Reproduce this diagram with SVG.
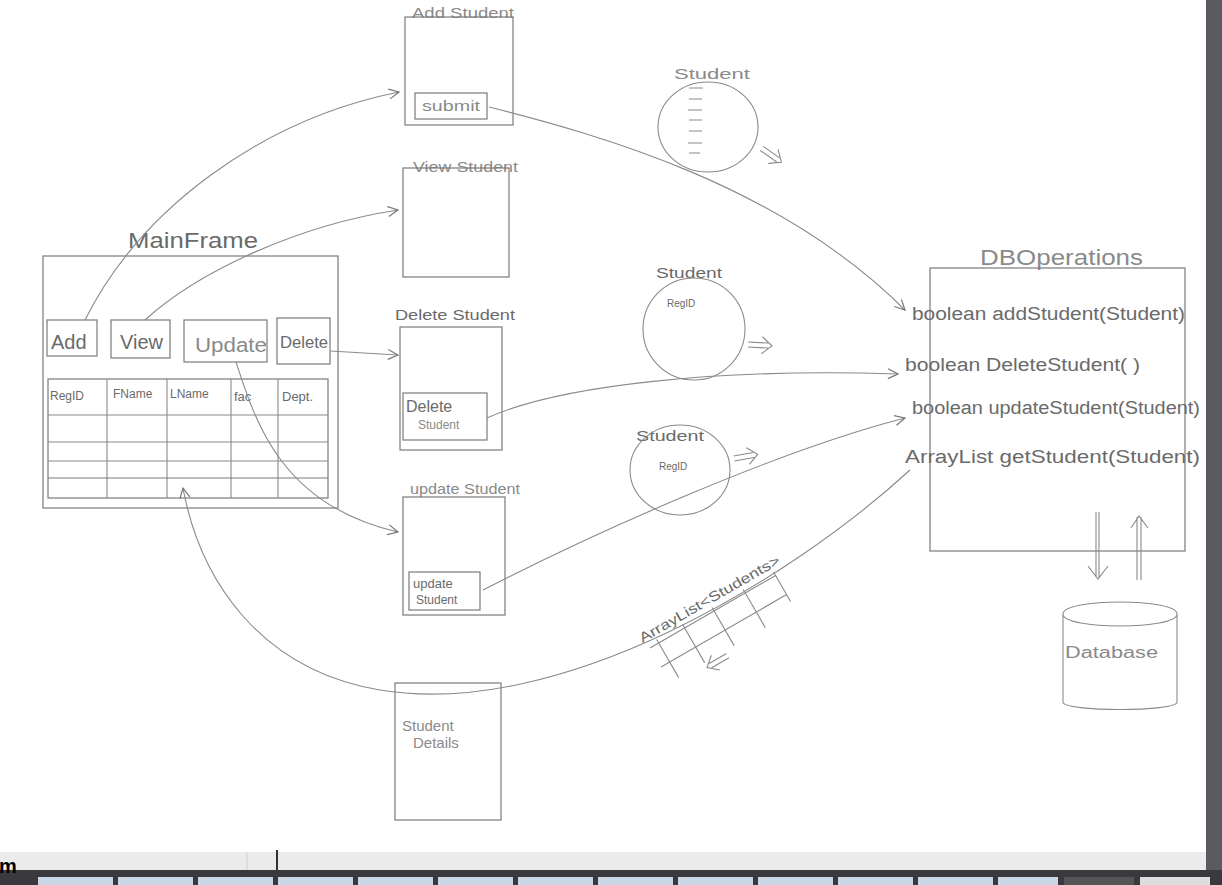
<svg xmlns="http://www.w3.org/2000/svg" width="1222" height="885" viewBox="0 0 1222 885">
<defs>
<style>
.s{fill:none;stroke:#7a7a7a;stroke-width:1.2}
.c{fill:none;stroke:#8a8a8a;stroke-width:1.1}
.t{font-family:"Liberation Sans","DejaVu Sans",sans-serif;fill:#6a6a6a}
.tl{font-family:"Liberation Sans","DejaVu Sans",sans-serif;fill:#8a8a8a}
</style>
<marker id="ah" viewBox="0 0 12 12" refX="11" refY="6" markerWidth="12" markerHeight="12" markerUnits="userSpaceOnUse" orient="auto">
<path d="M1,1 L11,6 L1,11" fill="none" stroke="#777" stroke-width="1.2"/>
</marker>
<g id="dbl">
<path d="M0,-2 L20,-2 M0,3 L20,3 M14,-8 L24,0.5 L14,9" fill="none" stroke="#8a8a8a" stroke-width="1.1"/>
</g>
</defs>
<rect width="1222" height="885" fill="#ffffff"/>

<g id="mainframe">
<text class="t" x="128" y="248" font-size="22" textLength="130" lengthAdjust="spacingAndGlyphs">MainFrame</text>
<rect class="s" x="43" y="256" width="295" height="252"/>
<rect class="s" x="47" y="320" width="50" height="36"/>
<text class="t" x="51" y="349" font-size="20">Add</text>
<rect class="s" x="111" y="320" width="59" height="38"/>
<text class="t" x="120" y="349" font-size="20">View</text>
<rect class="s" x="184" y="320" width="83" height="42"/>
<text class="tl" x="195" y="352" font-size="20" textLength="72" lengthAdjust="spacingAndGlyphs">Update</text>
<rect class="s" x="277" y="318" width="53" height="46"/>
<text class="t" x="280" y="348" font-size="16" textLength="48" lengthAdjust="spacingAndGlyphs">Delete</text>
<rect class="s" x="48" y="379" width="280" height="119"/>
<path class="c" d="M107,379 V498 M167,379 V498 M231,379 V498 M278,379 V498 M48,415 H328 M48,442 H328 M48,461 H328"/>
<path class="s" d="M48,478 H328"/>
<text class="t" x="50" y="400" font-size="12">RegID</text>
<text class="t" x="113" y="398" font-size="12">FName</text>
<text class="t" x="170" y="398" font-size="12">LName</text>
<text class="t" x="234" y="401" font-size="13">fac</text>
<text class="t" x="282" y="401" font-size="13">Dept.</text>
</g>

<g id="add-student">
<text class="tl" x="412" y="18" font-size="14" textLength="102" lengthAdjust="spacingAndGlyphs">Add Student</text>
<rect class="s" x="405" y="17" width="108" height="108"/>
<rect class="s" x="415" y="93" width="72" height="26"/>
<text class="tl" x="422" y="111" font-size="14" textLength="58" lengthAdjust="spacingAndGlyphs">submit</text>
</g>

<g id="view-student">
<text class="tl" x="413" y="172" font-size="14" textLength="105" lengthAdjust="spacingAndGlyphs">View Student</text>
<rect class="s" x="403" y="168" width="106" height="109"/>
</g>

<g id="delete-student">
<text class="t" x="395" y="320" font-size="14" textLength="120" lengthAdjust="spacingAndGlyphs">Delete Student</text>
<rect class="s" x="400" y="327" width="102" height="123"/>
<rect class="s" x="403" y="393" width="84" height="47"/>
<text class="t" x="406" y="412" font-size="16">Delete</text>
<text class="tl" x="418" y="429" font-size="12">Student</text>
</g>

<g id="update-student">
<text class="tl" x="410" y="494" font-size="14" textLength="110" lengthAdjust="spacingAndGlyphs">update Student</text>
<rect class="s" x="403" y="497" width="102" height="118"/>
<rect class="s" x="409" y="572" width="71" height="38"/>
<text class="t" x="413" y="588" font-size="13">update</text>
<text class="t" x="416" y="604" font-size="12">Student</text>
</g>

<g id="student-details">
<rect class="s" x="395" y="683" width="106" height="137"/>
<text class="tl" x="402" y="731" font-size="15">Student</text>
<text class="tl" x="413" y="748" font-size="15">Details</text>
</g>

<g id="student-obj-1">
<text class="tl" x="674" y="79" font-size="15" textLength="76" lengthAdjust="spacingAndGlyphs">Student</text>
<ellipse class="c" cx="708" cy="127" rx="50" ry="45"/>
<path class="c" d="M689,88 H703 M689,99 H702 M688,110 H702 M689,120 H702 M689,131 H702 M688,143 H702 M689,153 H700"/>
<use href="#dbl" transform="translate(762,148) rotate(35)"/>
</g>

<g id="student-obj-2">
<text class="t" x="656" y="278" font-size="15" textLength="66" lengthAdjust="spacingAndGlyphs">Student</text>
<ellipse class="c" cx="694" cy="329" rx="51" ry="51"/>
<text class="t" x="667" y="307" font-size="10">RegID</text>
<use href="#dbl" transform="translate(748,344) rotate(3)"/>
</g>

<g id="student-obj-3">
<text class="t" x="636" y="441" font-size="15" textLength="68" lengthAdjust="spacingAndGlyphs">Student</text>
<ellipse class="c" cx="680" cy="470" rx="50" ry="45"/>
<text class="t" x="659" y="470" font-size="10">RegID</text>
<use href="#dbl" transform="translate(734,458) rotate(-10)"/>
</g>

<g id="dboperations">
<text class="tl" x="980" y="265" font-size="22" textLength="163" lengthAdjust="spacingAndGlyphs">DBOperations</text>
<rect class="s" x="930" y="268" width="255" height="283"/>
<text class="t" x="912" y="320" font-size="18" textLength="273" lengthAdjust="spacingAndGlyphs">boolean  addStudent(Student)</text>
<text class="t" x="905" y="371" font-size="18" textLength="235" lengthAdjust="spacingAndGlyphs">boolean DeleteStudent( )</text>
<text class="t" x="912" y="414" font-size="18" textLength="288" lengthAdjust="spacingAndGlyphs">boolean    updateStudent(Student)</text>
<text class="t" x="905" y="463" font-size="18" textLength="295" lengthAdjust="spacingAndGlyphs">ArrayList    getStudent(Student)</text>
</g>

<g id="database">
<path class="c" d="M1063,614 C1063,598 1177,598 1177,614 C1177,630 1063,630 1063,614 Z M1063,614 V702 C1063,712 1177,712 1177,702 V614"/>
<text class="tl" x="1065" y="658" font-size="16" textLength="93" lengthAdjust="spacingAndGlyphs">Database</text>
</g>

<g id="arraylist">
<g transform="translate(650,648) rotate(-30)">
<text class="t" x="-4" y="-8" font-size="14" textLength="160" lengthAdjust="spacingAndGlyphs">ArrayList&lt;Students&gt;</text>
<path class="c" d="M0,0 H145 M0,22 H145 M10,-4 V40 M40,-4 V40 M74,-4 V40 M110,-4 V40 M145,-4 V30"/>
</g>
<use href="#dbl" transform="translate(728,656) rotate(150)"/>
</g>

<g id="connectors">
<path class="c" marker-end="url(#ah)" d="M85,320 C140,210 260,120 399,92"/>
<path class="c" marker-end="url(#ah)" d="M145,320 C200,270 300,225 398,210"/>
<path class="c" marker-end="url(#ah)" d="M330,351 L398,355"/>
<path class="c" marker-end="url(#ah)" d="M236,362 C255,420 280,505 398,532"/>
<path class="c" marker-end="url(#ah)" d="M489,107 C600,135 780,185 905,310"/>
<path class="c" marker-end="url(#ah)" d="M487,418 C560,385 720,368 898,374"/>
<path class="c" marker-end="url(#ah)" d="M483,590 C600,530 780,450 905,418"/>
<path class="c" marker-end="url(#ah)" d="M910,470 C790,580 560,720 380,690 C260,670 200,580 183,488"/>
<path class="c" d="M1099,512 V577 M1096,512 V577 M1088,566 L1098,579 L1108,566"/>
<path class="c" d="M1137,580 V517 M1141,580 V517 M1131,528 L1139,516 L1148,528"/>
</g>

<g id="screen-frame">
<rect x="1206" y="0" width="16" height="885" fill="#5b5b5f"/>
<rect x="0" y="852" width="1206" height="18" fill="#ebebeb"/>
<path d="M247,852 V870" stroke="#d0d0d0" stroke-width="1"/>
<path d="M277,850 V870" stroke="#333" stroke-width="2"/>
<rect x="0" y="870" width="1222" height="15" fill="#3a3a3e"/>
<rect x="38" y="877" width="75" height="8" fill="#c9d6e6"/>
<rect x="118" y="877" width="75" height="8" fill="#c9d6e6"/>
<rect x="198" y="877" width="75" height="8" fill="#c9d6e6"/>
<rect x="278" y="877" width="75" height="8" fill="#c9d6e6"/>
<rect x="358" y="877" width="75" height="8" fill="#c9d6e6"/>
<rect x="438" y="877" width="75" height="8" fill="#c9d6e6"/>
<rect x="518" y="877" width="75" height="8" fill="#c9d6e6"/>
<rect x="598" y="877" width="75" height="8" fill="#c9d6e6"/>
<rect x="678" y="877" width="75" height="8" fill="#c9d6e6"/>
<rect x="758" y="877" width="75" height="8" fill="#c9d6e6"/>
<rect x="838" y="877" width="75" height="8" fill="#c9d6e6"/>
<rect x="918" y="877" width="75" height="8" fill="#c9d6e6"/>
<rect x="998" y="877" width="60" height="8" fill="#c9d6e6"/>
<rect x="1064" y="877" width="70" height="8" fill="#555"/>
<rect x="1140" y="877" width="70" height="8" fill="#ddd"/>
<text x="-1" y="873" font-family="Liberation Sans, sans-serif" font-weight="bold" font-size="20" fill="#000">m</text>
</g>
</svg>
